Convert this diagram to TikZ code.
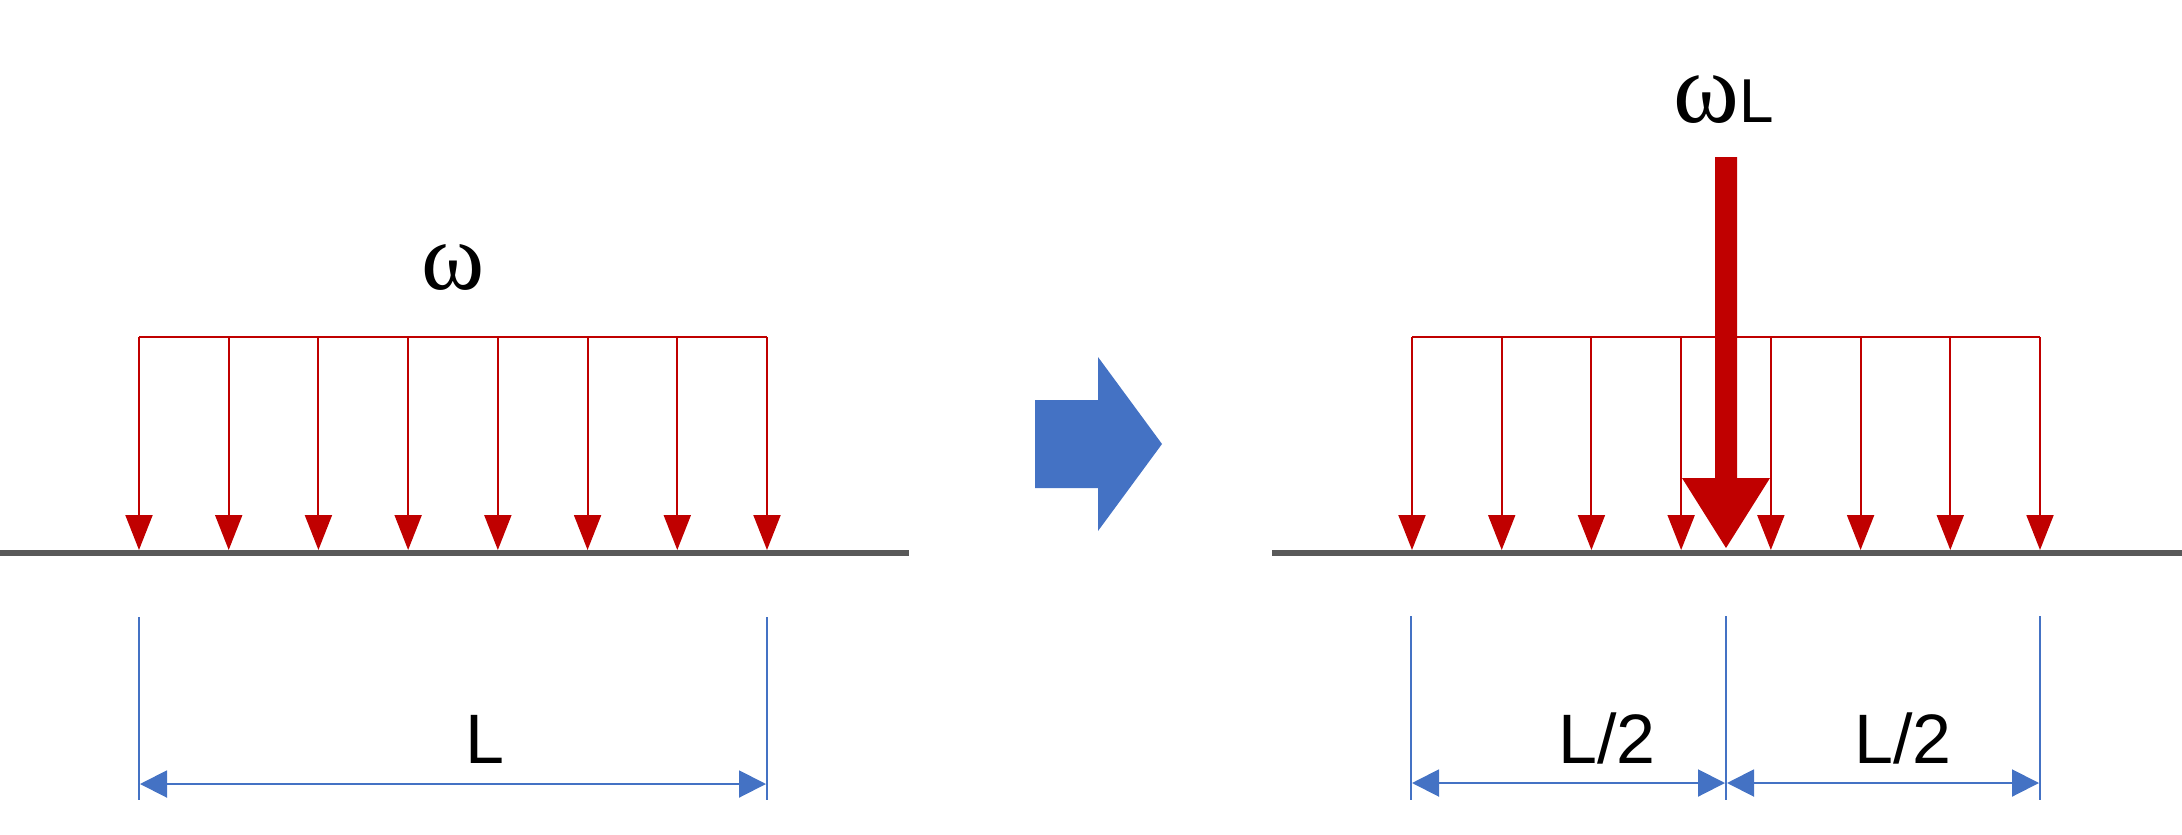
\documentclass[tikz,border=0pt]{standalone}
\usepackage{fontspec}
\setmainfont{Liberation Sans}
\newfontfamily\omegafont{Liberation Serif}
\usetikzlibrary{arrows.meta}
\definecolor{loadred}{HTML}{C00000}
\definecolor{dimblue}{HTML}{4472C4}
\definecolor{beamgray}{HTML}{595959}
\tikzset{
  beam/.style={line width=6pt, draw=beamgray},
  loadline/.style={line width=2pt, draw=loadred},
  loadarrow/.style={line width=2pt, draw=loadred, -{Triangle[width=27pt,length=35pt,fill=loadred]}},
  dimtick/.style={line width=2pt, draw=dimblue},
  dimline/.style={line width=2pt, draw=dimblue, {Triangle[width=27pt,length=27pt,fill=dimblue]}-{Triangle[width=27pt,length=27pt,fill=dimblue]}},
  omegalbl/.style={inner sep=0pt, anchor=base, font=\omegafont\fontsize{96}{96}\selectfont},
  dimlbl/.style={inner sep=0pt, anchor=base, font=\fontsize{70}{70}\selectfont},
}
\begin{document}
\begin{tikzpicture}[x=1pt,y=-1pt]
\useasboundingbox (0,0) rectangle (2182,835);

% ---------- left: distributed load ----------
\draw[beam] (0,553) -- (909,553);
\draw[loadline] (139,337) -- (767,337);
\foreach \i in {0,...,7} {
  \draw[loadarrow] ({139+\i*89.714},337) -- ({139+\i*89.714},550);
}
\node[omegalbl] (w1) at (453,289) {ω};

% dimension L
\coordinate (lt1) at (139,617);
\coordinate (lb1) at (139,800);
\coordinate (lt2) at (767,617);
\coordinate (lb2) at (767,800);
\draw[dimtick] (lt1) -- (lb1);
\draw[dimtick] (lt2) -- (lb2);
\coordinate (la) at (140,784);
\coordinate (lb) at (766,784);
\draw[dimline] (la) -- (lb);
\node[dimlbl] (Lleft) at (485,763) {L};

% ---------- block arrow ----------
\fill[dimblue] (1035,400) -- (1098,400) -- (1098,357) -- (1162,444) -- (1098,531) -- (1098,488) -- (1035,488) -- cycle;

% ---------- right: resultant ----------
\draw[beam] (1272,553) -- (2182,553);
\draw[loadline] (1412,337) -- (2040,337);
\foreach \i in {0,...,7} {
  \draw[loadarrow] ({1412+\i*89.714},337) -- ({1412+\i*89.714},550);
}
% big resultant arrow
\fill[loadred] (1715,157) -- (1737,157) -- (1737,478) -- (1770,478) -- (1726,548) -- (1682,478) -- (1715,478) -- cycle;
\node[inner sep=0pt, anchor=base] (wL) at (1724,122)
  {{\omegafont\fontsize{100}{100}\selectfont ω}{\fontsize{62}{62}\selectfont L}};

% dimensions L/2
\coordinate (rt1) at (1411,616);
\coordinate (rb1) at (1411,800);
\coordinate (rt2) at (1726,616);
\coordinate (rb2) at (1726,800);
\coordinate (rt3) at (2040,616);
\coordinate (rb3) at (2040,800);
\draw[dimtick] (rt1) -- (rb1);
\draw[dimtick] (rt2) -- (rb2);
\draw[dimtick] (rt3) -- (rb3);
\coordinate (ra) at (1412,783);
\coordinate (rb) at (1725,783);
\coordinate (rc) at (1727,783);
\coordinate (rd) at (2039,783);
\draw[dimline] (ra) -- (rb);
\draw[dimline] (rc) -- (rd);
\node[dimlbl] (Lh1) at (1607,763) {L/2};
\node[dimlbl] (Lh2) at (1903,763) {L/2};
\end{tikzpicture}
\end{document}
